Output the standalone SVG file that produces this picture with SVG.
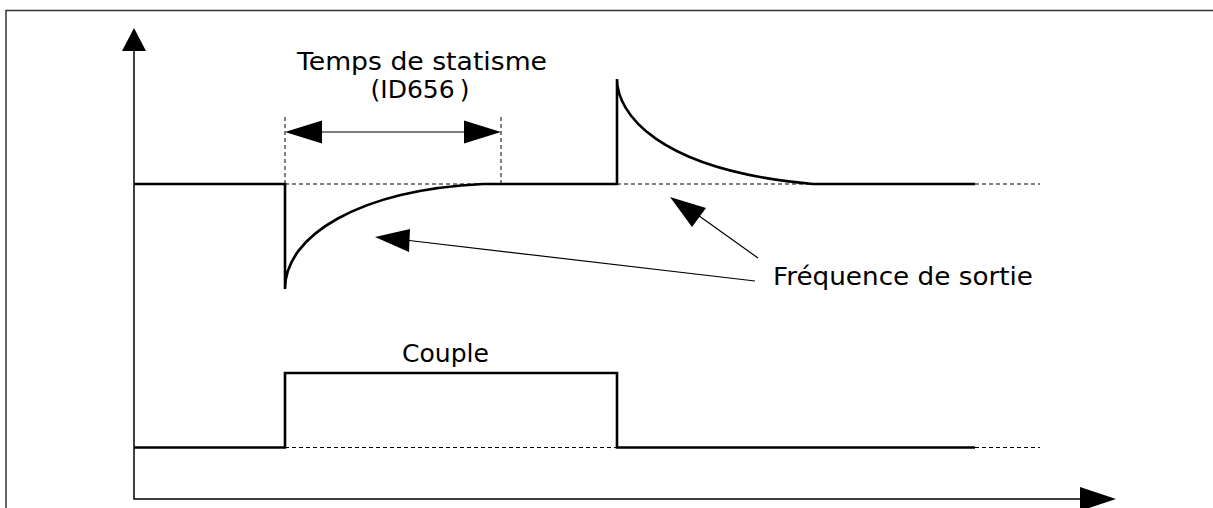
<svg xmlns="http://www.w3.org/2000/svg" width="1213" height="508" viewBox="0 0 1213 508">
<style>
.frame{fill:none;stroke:#333;stroke-width:1.5}
.axis{fill:none;stroke:#000;stroke-width:1.5}
.sig{fill:none;stroke:#000;stroke-width:2.6}
.dash{fill:none;stroke:#000;stroke-width:1;stroke-dasharray:4 3}
.thin{fill:none;stroke:#000;stroke-width:1.2}
.head{fill:#000;stroke:none}
text{font-family:"DejaVu Sans",Verdana,sans-serif;font-size:25px;fill:#000}
</style>
<rect width="1213" height="508" fill="#fff"/>
<g id="frame">
<path class="frame" d="M6,508 V10.5 H1213"/>
</g>
<g id="axes">
<path class="axis" d="M134,50 V499 H1082"/>
<polygon class="head" points="134,28 122,51 146,51"/>
<polygon class="head" points="1116,499 1080,487 1080,511"/>
</g>
<g id="freq-signal">
<path class="sig" d="M134,184 H285 V289 C285,235 360,190 483,184 H617 V79 C617,112 655,170 813,184 H975"/>
<path class="dash" d="M285,184 H500 M617,184 H813 M975,184 H1040"/>
</g>
<g id="torque-signal">
<path class="sig" d="M134,447.5 H285 V373 H617 V447.5 H975"/>
<path class="dash" d="M285,447.5 H617 M975,447.5 H1040"/>
<text x="402" y="362" textLength="87" lengthAdjust="spacingAndGlyphs">Couple</text>
</g>
<g id="droop-time">
<path class="dash" d="M285,117 V184 M501,117 V184"/>
<line class="thin" x1="320" y1="132" x2="466" y2="132"/>
<polygon class="head" points="285,132 322,120.5 322,143.5"/>
<polygon class="head" points="501,132 464,120.5 464,143.5"/>
<text x="297" y="70" textLength="250" lengthAdjust="spacingAndGlyphs">Temps de statisme</text>
<text x="420" y="98" text-anchor="middle">(ID656<tspan dx="5">)</tspan></text>
</g>
<g id="connectors">
<line class="thin" x1="755" y1="281" x2="405" y2="240"/>
<polygon class="head" points="375,237 410,229 409,252"/>
<line class="thin" x1="758" y1="258" x2="695" y2="213"/>
<polygon class="head" points="670,197 706,208 692,227"/>
</g>
<g id="label-freq">
<text x="773" y="285" textLength="260" lengthAdjust="spacingAndGlyphs">Fréquence de sortie</text>
</g>
</svg>
